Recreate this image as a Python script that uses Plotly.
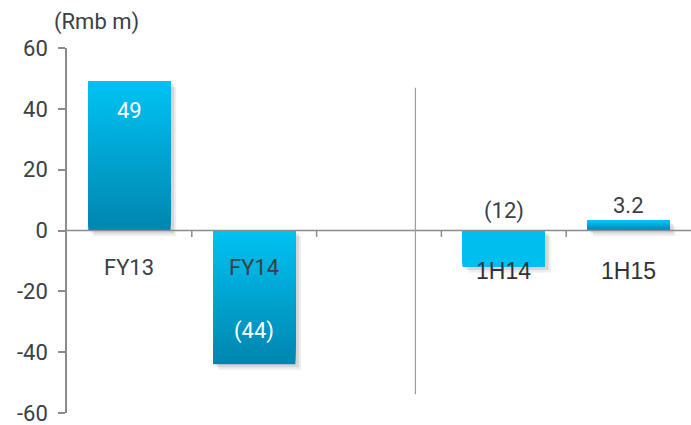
import plotly.graph_objects as go

# Net profit by period (Rmb m)
categories = ["FY13", "FY14", "1H14", "1H15"]
values = [49, -44, -12, 3.2]
axis_slots = ["FY13", "FY14", " ", "1H14", "1H15"]
y_ticks = [-60, -40, -20, 0, 20, 40, 60]
y_tick_text = ["-60", "-40", "-20", "0", "20", "40", "60"]
unit_label = "(Rmb m)"

BRIGHT = (0, 194, 242)
DARK = (0, 134, 176)
FLAT = "rgb(0,190,238)"
GRID = "#8a8d90"
TEXT = "#3b4046"

def fmt(v):
    return f"({abs(v):g})" if v < 0 else f"{v:g}"

def lerp(a, b, t):
    return "rgb(%d,%d,%d)" % tuple(round(a[i] + (b[i] - a[i]) * t) for i in range(3))

gradient = [True, True, False, True]
lows = [min(0, v) for v in values]
heights = [abs(v) for v in values]
BAR_W = 0.66

fig = go.Figure()

# soft drop shadow behind each bar
for alpha, dx, dy in [(0.08, 0.045, 1.8), (0.12, 0.028, 1.0)]:
    fig.add_trace(go.Bar(
        x=categories, y=heights, base=[lo - dy for lo in lows],
        width=BAR_W, offset=-BAR_W / 2 + dx,
        marker=dict(color=f"rgba(40,40,40,{alpha})", line_width=0),
        hoverinfo="skip", showlegend=False))

# vertical gradient: each layer runs from its start to the bar's top,
# brighter layers painted over darker ones
N = 40
for j in range(N):
    t = j / (N - 1)
    cols = [lerp(DARK, BRIGHT, t) if g else FLAT for g in gradient]
    fig.add_trace(go.Bar(
        x=categories,
        y=[h * (N - j) / N for h in heights],
        base=[lo + h * j / N for lo, h in zip(lows, heights)],
        width=BAR_W,
        marker=dict(color=cols, line_width=0),
        hoverinfo="skip", showlegend=False))

# value labels: inside the tall bars, above the short ones
for c, v in zip(categories, values):
    if abs(v) > 20:
        y = v - 9.5 if v > 0 else v + 11
        col = "white"
    else:
        y = 6.5 if v < 0 else v + 5
        col = TEXT
    fig.add_annotation(x=c, y=y, text=fmt(v), showarrow=False,
                       font=dict(family="Roboto", size=22, color=col))

# category labels under the zero line
for c in categories:
    fy = c.startswith("FY")
    fig.add_annotation(
        x=c, y=-12.3 if fy else -13.2, text=c, showarrow=False,
        font=dict(family="Roboto" if fy else "Liberation Sans",
                  size=22 if fy else 23, color=TEXT if fy else "#2f3338"))

# zero line with category separators
fig.add_shape(type="line", xref="x", yref="y", x0=-0.5, x1=4.5, y0=0, y1=0,
              line=dict(color=GRID, width=1.5), layer="above")
for xs in [0.5, 1.5, 2.5, 3.5]:
    fig.add_shape(type="line", xref="x", yref="y", x0=xs, x1=xs, y0=0, y1=-2.1,
                  line=dict(color=GRID, width=1.5))

# divider between annual and half-year figures
fig.add_shape(type="line", xref="x", yref="y", x0=2.292, x1=2.292, y0=47, y1=-53.9,
              line=dict(color="#9a9c9e", width=1.2))

fig.add_annotation(xref="paper", yref="paper", x=0.048, y=1.03, xanchor="center",
                   yanchor="bottom", text=unit_label, showarrow=False,
                   font=dict(family="Roboto", size=22, color=TEXT))

fig.update_layout(
    width=691, height=425,
    margin=dict(l=67, r=0, t=48, b=12),
    paper_bgcolor="white", plot_bgcolor="white",
    barmode="overlay",
    xaxis=dict(type="category", categoryorder="array", categoryarray=axis_slots,
               range=[-0.5, 4.5], showticklabels=False, showline=False,
               showgrid=False, zeroline=False, ticks=""),
    yaxis=dict(range=[-60.05, 60.05], tickvals=y_ticks, ticktext=y_tick_text,
               showgrid=False, zeroline=False,
               showline=True, linecolor=GRID, linewidth=1.5,
               ticks="outside", ticklen=7, tickcolor=GRID, tickwidth=1.5,
               ticklabelstandoff=6, ticklabeloverflow="allow",
               tickfont=dict(family="Roboto", size=22, color=TEXT)),
)

fig.write_html("out.html")
